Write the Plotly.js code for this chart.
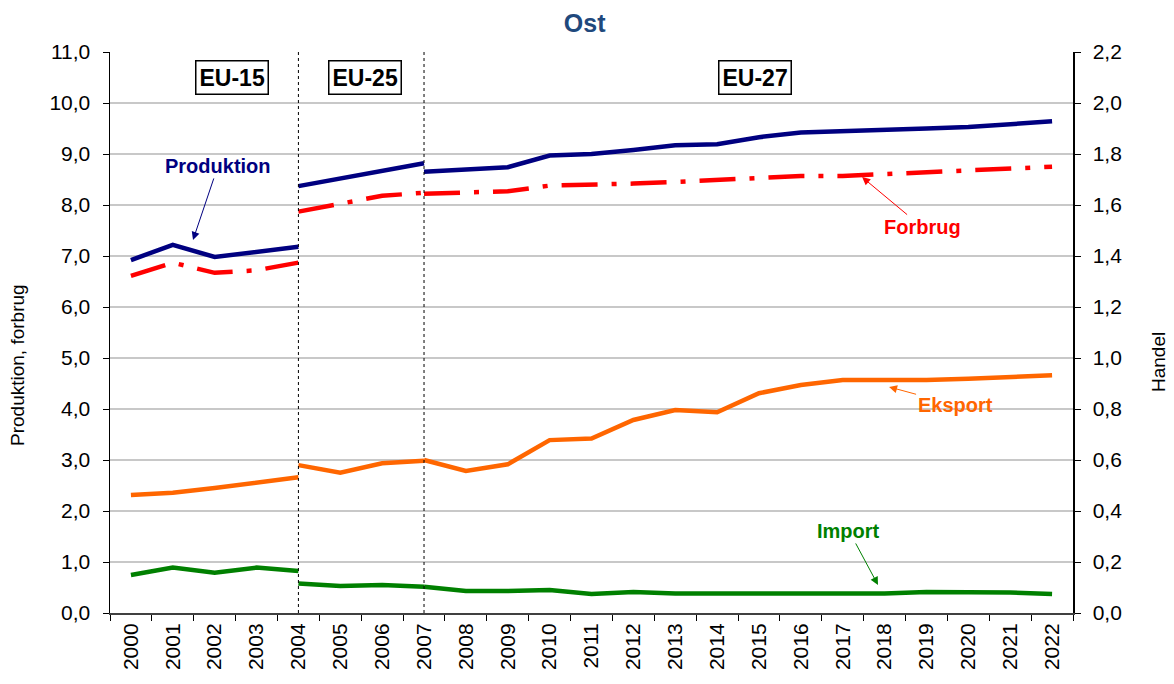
<!DOCTYPE html>
<html>
<head>
<meta charset="utf-8">
<script src="https://cdn.plot.ly/plotly-3.0.1.min.js"></script>
<style>html,body{margin:0;padding:0;background:#fff;}#chart{width:1174px;height:684px;}</style>
</head>
<body>
<div id="chart"></div>
<script>
const years = ['2000','2001','2002','2003','2004','2005','2006','2007','2008','2009','2010','2011','2012','2013','2014','2015','2016','2017','2018','2019','2020','2021','2022'];
const yearsEU15 = years.slice(0,5);
const yearsEU25 = years.slice(4,8);
const yearsEU27 = years.slice(7);

const prodEU15 = [6.92,7.22,6.98,7.07,7.18];
const prodEU25 = [8.37,8.52,8.67,8.82];
const prodEU27 = [8.65,8.70,8.74,8.97,9.00,9.08,9.17,9.19,9.33,9.42,9.44,9.47,9.50,9.53,9.58,9.64];

const forbEU15 = [6.61,6.87,6.67,6.72,6.87];
const forbEU25 = [7.87,8.03,8.18,8.24];
const forbEU27 = [8.22,8.24,8.27,8.38,8.39,8.42,8.45,8.49,8.55,8.57,8.57,8.61,8.65,8.67,8.71,8.75];

const ekspEU15 = [0.463,0.472,0.490,0.510,0.532];
const ekspEU25 = [0.580,0.550,0.587,0.597];
const ekspEU27 = [0.600,0.557,0.583,0.678,0.684,0.757,0.796,0.787,0.862,0.894,0.914,0.914,0.914,0.919,0.924,0.932];

const impEU15 = [0.149,0.178,0.158,0.178,0.165];
const impEU25 = [0.116,0.106,0.110,0.103];
const impEU27 = [0.103,0.086,0.086,0.090,0.075,0.082,0.076,0.076,0.076,0.076,0.076,0.076,0.082,0.082,0.080,0.075];

const C_PROD = '#000080', C_FORB = '#FF0000', C_EKSP = '#FF6600', C_IMP = '#008000';
const W = 4.5;
const FORB_DASH = '36px,14px,5px,14px';

function tr(x, y, color, axis, dash) {
  return {x: x, y: y, type: 'scatter', mode: 'lines', yaxis: axis,
    line: {color: color, width: W, dash: dash || 'solid'}, hoverinfo: 'skip', showlegend: false, cliponaxis: false};
}

const data = [
  tr(yearsEU15, ekspEU15, C_EKSP, 'y2'), tr(yearsEU25, ekspEU25, C_EKSP, 'y2'), tr(yearsEU27, ekspEU27, C_EKSP, 'y2'),
  tr(yearsEU15, impEU15, C_IMP, 'y2'), tr(yearsEU25, impEU25, C_IMP, 'y2'), tr(yearsEU27, impEU27, C_IMP, 'y2'),
  tr(yearsEU15, forbEU15, C_FORB, 'y', FORB_DASH), tr(yearsEU25, forbEU25, C_FORB, 'y', FORB_DASH), tr(yearsEU27, forbEU27, C_FORB, 'y', FORB_DASH),
  tr(yearsEU15, prodEU15, C_PROD, 'y'), tr(yearsEU25, prodEU25, C_PROD, 'y'), tr(yearsEU27, prodEU27, C_PROD, 'y')
];

const FONT = 'Liberation Sans, Arial, sans-serif';
const lab = (text, color, x, y, ax, ay) => ({
  text: '<b>' + text + '</b>', xref: 'paper', yref: 'paper', x: x, y: y, ax: ax, ay: ay,
  showarrow: true, arrowhead: 2, arrowsize: 1.6, arrowwidth: 1, arrowcolor: color,
  font: {family: FONT, size: 20, color: color}
});
const box = (text, x) => ({
  text: '<b>' + text + '</b>', xref: 'paper', yref: 'paper', x: x, y: 0.9537,
  xanchor: 'center', yanchor: 'middle', showarrow: false,
  bordercolor: '#000', borderwidth: 1.5, borderpad: 3, bgcolor: '#fff',
  font: {family: FONT, size: 23, color: '#000'}
});
const axTitle = (text, x, y) => ({
  text: text, xref: 'paper', yref: 'paper', x: x, y: y, xanchor: 'center', yanchor: 'middle',
  textangle: -90, showarrow: false, font: {family: FONT, size: 19, color: '#000'}
});

const layout = {
  width: 1174, height: 684,
  paper_bgcolor: '#fff', plot_bgcolor: '#fff',
  margin: {l: 110, r: 101, t: 52, b: 71},
  separators: ', ',
  font: {family: FONT, size: 21, color: '#000'},
  title: {text: '<b>Ost</b>', xref: 'container', x: 0.498, yref: 'container', y: 0.966, yanchor: 'middle',
          font: {family: FONT, size: 25, color: '#1F497D'}},
  xaxis: {type: 'category', categoryarray: years, range: [-0.5, 22.5], tickson: 'boundaries',
          ticks: 'outside', ticklen: 6, tickcolor: '#000', tickwidth: 1, tickangle: -90,
          showgrid: false, showline: true, linecolor: '#404040', linewidth: 2, zeroline: false,
          tickfont: {family: FONT, size: 21, color: '#000'}, automargin: false},
  yaxis: {range: [0, 11], dtick: 1, tickformat: '.1f', ticks: 'outside', ticklen: 6, tickcolor: '#000',
          ticklabelstandoff: 8,
          showline: true, linecolor: '#000', linewidth: 1.5, showgrid: true, gridcolor: '#c8c8c8', gridwidth: 1.5,
          zeroline: false, tickfont: {family: FONT, size: 21, color: '#000'}, automargin: false},
  yaxis2: {range: [0, 2.2], dtick: 0.2, tickformat: '.1f', overlaying: 'y', side: 'right',
          ticks: 'outside', ticklen: 6, tickcolor: '#000', ticklabelstandoff: 8,
          showline: true, linecolor: '#000', linewidth: 1.5,
          showgrid: false, zeroline: false, tickfont: {family: FONT, size: 21, color: '#000'}, automargin: false},
  shapes: [
    {type: 'line', xref: 'x', yref: 'paper', x0: years.indexOf('2004'), x1: years.indexOf('2004'), y0: 0, y1: 1,
     line: {color: '#000', width: 1, dash: 'dot'}},
    {type: 'line', xref: 'x', yref: 'paper', x0: years.indexOf('2007'), x1: years.indexOf('2007'), y0: 0, y1: 1,
     line: {color: '#000', width: 1, dash: 'dot'}}
  ],
  annotations: [
    box('EU-15', 0.1267), box('EU-25', 0.2643), box('EU-27', 0.670),
    lab('Produktion', C_PROD, 0.0862, 0.665, 25, -74),
    lab('Forbrug', C_FORB, 0.781, 0.777, 60, 50),
    lab('Eksport', C_EKSP, 0.809, 0.403, 66, 18),
    lab('Import', C_IMP, 0.7975, 0.05, -29, -54),
    axTitle('Produktion, forbrug', (18 - 110) / 963, (613 - 365) / 561),
    axTitle('Handel', (1158 - 110) / 963, (613 - 362) / 561)
  ]
};

Plotly.newPlot('chart', data, layout, {displayModeBar: false, staticPlot: true});
</script>
</body>
</html>
